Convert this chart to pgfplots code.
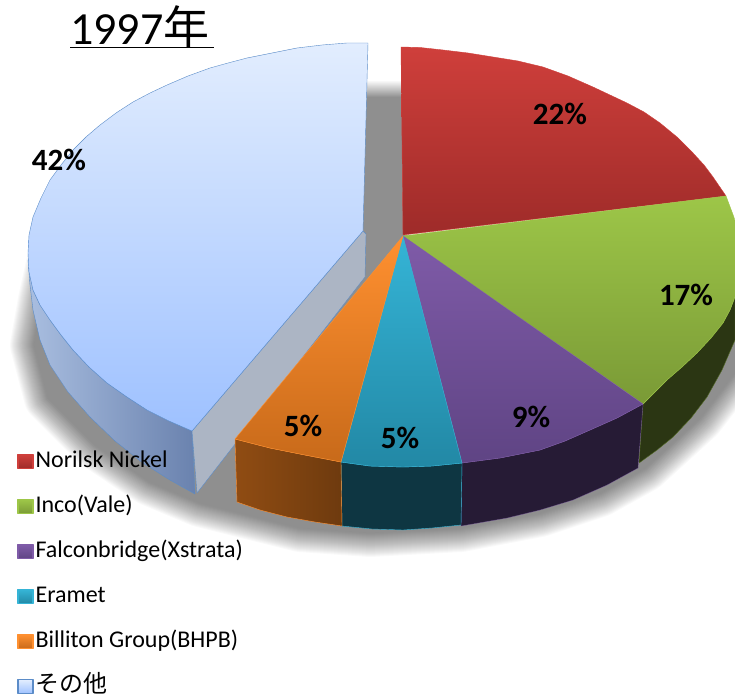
\documentclass[border=0pt]{standalone}
\usepackage{fontspec}
\usepackage{pgfplots}
\usepackage{pgfplotstable}
\pgfplotsset{compat=1.18}
\setmainfont{Carlito}
\newfontfamily\cjk{Noto Sans CJK JP}

% colours
\definecolor{redT}{HTML}{CF3F3B}\definecolor{redB}{HTML}{9E2B29}
\definecolor{grnT}{HTML}{9DC648}\definecolor{grnB}{HTML}{7A9A36}
\definecolor{purT}{HTML}{7F5BA8}\definecolor{purB}{HTML}{5F4484}
\definecolor{teaT}{HTML}{35B4D6}\definecolor{teaB}{HTML}{2288A5}
\definecolor{oraT}{HTML}{FF9030}\definecolor{oraB}{HTML}{C86A1A}
\definecolor{bluT}{HTML}{E2EDFE}\definecolor{bluB}{HTML}{9EC1FF}
\definecolor{bluE}{HTML}{5B8CC8}
\definecolor{bluL}{HTML}{A9BEE0}\definecolor{bluR}{HTML}{6A82AE}
\definecolor{wall}{HTML}{ACB5C4}

% centre line of the soft shadow under the pie
\pgfplotstableread{
x y
52 255
42 300
34 345
48 398
95 445
150 482
200 503
240 513
300 528
370 533
461 528
540 513
600 493
645 468
700 418
760 340
}\shadowline

\begin{document}
\begin{tikzpicture}
\begin{axis}[
  width=735pt, height=698pt, scale only axis,
  xmin=0, xmax=735, ymin=0, ymax=698, y dir=reverse,
  hide axis,
  every axis plot/.append style={mark=none, line join=round},
  legend cell align=left,
  legend image code/.code={\draw[#1,line width=1.4pt] (0pt,-7pt) rectangle (15pt,7pt);},
  legend style={at={(axis cs:16,450)}, anchor=north west, draw=none, fill=none,
    font=\fontsize{24}{26}\selectfont, row sep=24pt, inner sep=1pt,
    nodes={text height=16pt, text depth=5pt, inner ysep=0pt},
    /tikz/every even column/.append style={column sep=5pt}},
]
% shadow
\pgfplotsinvokeforeach{2,4,...,48}{
  \addplot[forget plot, line width=#1pt, draw=black, draw opacity=0.024] table {\shadowline};
}
\addplot[forget plot, draw=none, fill=black!44] coordinates {
  (52,255) (42,300) (34,345) (48,398) (95,445) (150,482) (200,503) (240,513) (300,528) (370,533)
  (461,528) (540,513) (600,493) (645,468) (700,418) (760,340) (403,234) (403,97) (366,97) (52,255)};
\addplot[forget plot, draw=none, top color=white, bottom color=black!44] coordinates {
  (366,80) (403,80) (403,97) (366,97)} -- cycle;

% sides
\addplot[forget plot, draw=bluE, left color=bluL, right color=bluR] coordinates {
  (28,260) (30,285) (33,310) (40,340) (50,365) (68,392) (90,417) (115,441) (143,463) (170,480) (195,494)
  (192,431) (169,421) (147,410) (127,397) (107,383) (89,367) (73,350) (61,335) (50,320) (40,305) (33,290)} -- cycle;
\addplot[forget plot, draw=bluE, fill=wall] coordinates {
  (192,431) (363,231) (366,234) (365,277) (197,493)} -- cycle;
\addplot[forget plot, draw=black!30!grnB, fill=black!65!grnB] coordinates {
  (643,404) (639,463) (657,450) (673,437) (691,418) (707,397) (722,370) (735,340) (735,297)
  (730,310) (723,323) (711,338) (697,353) (682,367) (667,380) (655,392)} -- cycle;
\addplot[forget plot, draw=purT, fill=purB!40!black, draw opacity=0.6] coordinates {
  (643,404) (638,468) (607,485) (573,500) (540,510) (507,518) (461,526) (462,463)
  (500,458) (540,450) (565,441) (590,430) (617,418)} -- cycle;
\addplot[forget plot, draw=teaT, fill=teaB!40!black] coordinates {
  (462,463) (461,525) (432,528) (403,530) (372,529) (342,526) (341,462) (370,466) (403,467) (432,466)} -- cycle;
\addplot[forget plot, draw=oraT, left color=oraB!72!black, right color=oraB!55!black] coordinates {
  (235,439) (237,502) (260,510) (287,517) (315,522) (342,526) (341,462) (305,455) (270,448)} -- cycle;

% top faces
\addplot[draw=redT, top color=redT, bottom color=redB] coordinates {
  (403,235) (401,47) (420,47.5) (443,50) (468,53) (493,57) (518,61) (543,67) (568,76) (593,87) (610,95)
  (627,103) (644,112) (660,123) (677,137) (693,153) (704,165) (713,177) (726,196)} -- cycle;
\addlegendentry{Norilsk Nickel}
\addplot[draw=grnT, top color=grnT, bottom color=grnB] coordinates {
  (403,236) (726,196) (735,220) (735,297) (730,310) (723,323) (711,338) (697,353) (682,367) (667,380) (655,392) (643,404)} -- cycle;
\addlegendentry{Inco(Vale)}
\addplot[draw=purT, top color=purT, bottom color=purB] coordinates {
  (403,236) (643,404) (617,418) (590,430) (565,441) (540,450) (500,458) (462,463)} -- cycle;
\addlegendentry{Falconbridge(Xstrata)}
\addplot[draw=teaT, top color=teaT, bottom color=teaB] coordinates {
  (403,236) (462,463) (432,466) (403,467) (370,466) (341,462)} -- cycle;
\addlegendentry{Eramet}
\addplot[draw=oraT, top color=oraT, bottom color=oraB] coordinates {
  (403,236) (341,462) (305,455) (270,448) (235,439)} -- cycle;
\addlegendentry{Billiton Group(BHPB)}
\addplot[draw=bluE, top color=bluT, bottom color=bluB] coordinates {
  (368,43) (347,43) (322,45) (297,48) (272,53) (247,58) (228,63) (210,68) (188,76) (167,85) (150,93)
  (133,102) (116,113) (100,125) (86,137) (73,150) (61,165) (50,180) (41,198) (33,217) (29,235) (28,253)
  (29,272) (33,290) (40,305) (50,320) (61,335) (73,350) (89,367) (107,383) (127,397) (147,410) (169,421)
  (192,431) (363,231)} -- cycle;
\addlegendentry{{\cjk その他}}

% labels
\begin{scope}[every node/.style={font=\bfseries\fontsize{31}{33}\selectfont, inner sep=0pt}]
\node at (axis cs:560,114) {22\%};
\node at (axis cs:686,295) {17\%};
\node at (axis cs:531,417) {9\%};
\node at (axis cs:303,426) {5\%};
\node at (axis cs:400,438) {5\%};
\node at (axis cs:59,160) {42\%};
\end{scope}
\node[anchor=base west, inner sep=0pt, font=\fontsize{46}{50}\selectfont] at (axis cs:70,45)
  {\rlap{\rule[-3.5pt]{144pt}{1.6pt}}1997{\cjk 年}};
\end{axis}
\pgfresetboundingbox
\path (0pt,0pt) rectangle (735pt,698pt);
\end{tikzpicture}
\end{document}
